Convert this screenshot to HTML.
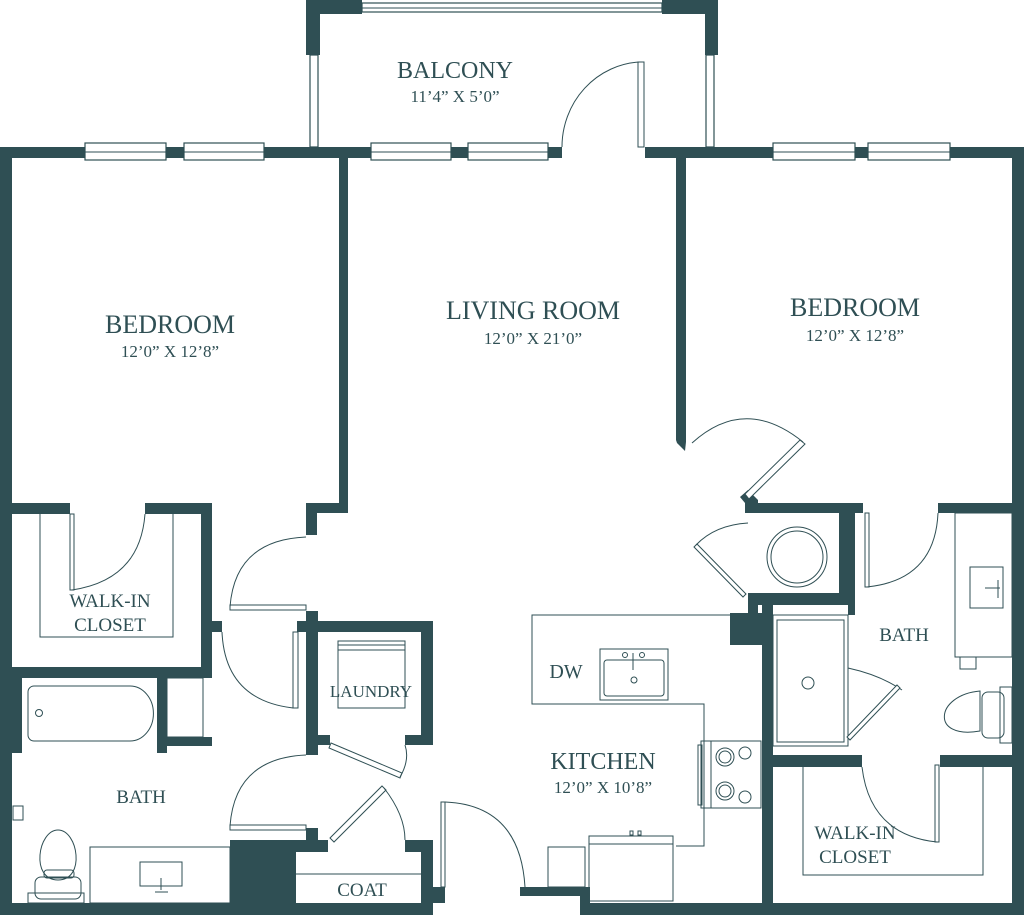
<!DOCTYPE html>
<html><head><meta charset="utf-8"><style>
html,body{margin:0;padding:0;background:#fff;width:1024px;height:915px;overflow:hidden}
text{font-family:"Liberation Serif",serif;fill:#2f4f54}
</style></head><body>
<svg width="1024" height="915" viewBox="0 0 1024 915" xmlns="http://www.w3.org/2000/svg">
<g fill="#2f4f54">
<!-- balcony -->
<rect x="306" y="0" width="56" height="14"/><rect x="306" y="0" width="14" height="55"/>
<rect x="662" y="0" width="56" height="14"/><rect x="705" y="0" width="13" height="55"/>
<!-- top wall -->
<rect x="0" y="147" width="562" height="11"/><rect x="645" y="147" width="379" height="11"/>
<!-- outer -->
<rect x="0" y="147" width="12" height="768"/><rect x="1012" y="147" width="12" height="768"/>
<rect x="0" y="903" width="433" height="12"/><rect x="580" y="903" width="444" height="12"/>
<rect x="520" y="887" width="67" height="9"/><rect x="580" y="887" width="10" height="20"/>
<!-- left bedroom -->
<rect x="339" y="158" width="9" height="355"/><rect x="306" y="503" width="42" height="10"/><rect x="306" y="503" width="11" height="32"/>
<rect x="0" y="503" width="70" height="11"/><rect x="145" y="503" width="67" height="11"/>
<rect x="201" y="503" width="11" height="175"/><rect x="212" y="621" width="10" height="11"/>
<rect x="0" y="667" width="212" height="11"/>
<rect x="157" y="678" width="10" height="75"/><rect x="167" y="737" width="45" height="9"/>
<rect x="12" y="678" width="10" height="75"/>
<rect x="230" y="840" width="66" height="63"/>
<!-- laundry -->
<rect x="306" y="611" width="12" height="144"/><rect x="297" y="621" width="136" height="11"/>
<rect x="421" y="621" width="12" height="124"/><rect x="318" y="735" width="12" height="10"/><rect x="405" y="735" width="28" height="10"/>
<!-- coat -->
<rect x="306" y="828" width="12" height="14"/><rect x="296" y="840" width="32" height="12"/>
<rect x="405" y="840" width="28" height="12"/><rect x="421" y="840" width="12" height="75"/>
<rect x="433" y="887" width="12" height="16"/>
<!-- right -->
<polygon points="676,158 686,158 686,442 685,451 677,443 676,440"/>
<polygon points="740,497 748,490 758,500 758,513 745,513 745,503"/>
<rect x="745" y="503" width="110" height="10"/>
<rect x="839" y="503" width="16" height="102"/>
<rect x="748" y="593" width="107" height="12"/><rect x="748" y="593" width="10" height="22"/>
<rect x="730" y="613" width="32" height="32"/>
<rect x="762" y="596" width="11" height="319"/>
<rect x="855" y="503" width="8" height="10"/><rect x="938" y="503" width="86" height="10"/>
<rect x="762" y="755" width="100" height="12"/><rect x="940" y="755" width="84" height="12"/>
<rect x="848" y="605" width="7" height="10"/>
</g>
<g fill="#fff" stroke="#2f4f54" stroke-width="1.2">
<!-- windows -->
<rect x="362" y="3" width="300" height="9"/>
<rect x="85" y="143" width="81" height="17"/><rect x="184" y="143" width="80" height="17"/>
<rect x="371" y="143" width="80" height="17"/><rect x="468" y="143" width="80" height="17"/>
<rect x="773" y="143" width="82" height="17"/><rect x="868" y="143" width="82" height="17"/>
<rect x="310" y="55" width="8" height="92"/><rect x="706" y="55" width="8" height="92"/>
</g>
<g fill="none" stroke="#2f4f54" stroke-width="1">
<line x1="85" y1="152" x2="166" y2="152"/><line x1="184" y1="152" x2="264" y2="152"/>
<line x1="371" y1="152" x2="451" y2="152"/><line x1="468" y1="152" x2="548" y2="152"/>
<line x1="773" y1="152" x2="855" y2="152"/><line x1="868" y1="152" x2="950" y2="152"/>
<line x1="362" y1="8" x2="662" y2="8"/>
<!-- balcony door -->
<rect x="638" y="62" width="6" height="85" fill="#fff"/>
<path d="M562,147 A82,85 0 0 1 640,62"/>
<!-- bedroom right door -->
<polygon points="745,494 800,440 805,444 749,499" fill="#fff"/>
<path d="M692,443 Q745,395 803,442"/>
<!-- left closet -->
<polyline points="40,514 40,637 173,637 173,514"/>
<rect x="70" y="514" width="4" height="76" fill="#fff"/>
<path d="M72,590 Q140,580 145,514"/>
<!-- hall doors -->
<rect x="230" y="605" width="76" height="5" fill="#fff"/>
<path d="M230,607 Q235,540 306,537"/>
<rect x="293" y="632" width="5" height="76" fill="#fff"/>
<path d="M222,632 Q225,700 293,708"/>
<rect x="230" y="825" width="76" height="5" fill="#fff"/>
<path d="M230,826 Q235,758 306,755"/>
<!-- tub -->
<rect x="167" y="678" width="36" height="59"/>
<path d="M34,686 H130 A23,27 0 0 1 130,741 H34 A6,6 0 0 1 28,735 V692 A6,6 0 0 1 34,686 Z"/>
<circle cx="39" cy="713" r="3.5"/>
<!-- left bath fixtures -->
<rect x="90" y="847" width="140" height="56"/>
<rect x="140" y="862" width="42" height="24"/><path d="M161,878 V890 M155,892 H168"/>
<path d="M58,880 C30,880 38,830 58,830 C78,830 86,880 58,880 Z"/>
<rect x="44" y="870" width="30" height="8" rx="3"/><rect x="35" y="877" width="46" height="22" rx="6"/>
<rect x="28" y="893" width="56" height="10"/>
<rect x="13" y="806" width="10" height="14"/>
<!-- laundry -->
<rect x="338" y="641" width="67" height="67"/><line x1="338" y1="650" x2="405" y2="650"/><line x1="338" y1="645" x2="405" y2="645"/>
<polygon points="331,743 402,773 400,778 329,748" fill="#fff"/>
<path d="M400,777 Q410,760 405,745"/>
<!-- coat -->
<line x1="296" y1="874" x2="421" y2="874"/>
<polygon points="330,838 382,786 386,790 334,842" fill="#fff"/>
<path d="M384,788 Q405,815 405,840"/>
<!-- entry -->
<rect x="441" y="802" width="4" height="85" fill="#fff"/>
<path d="M445,802 Q520,805 525,887"/>
<!-- kitchen -->
<polyline points="730,615 532,615 532,704 704,704 704,846 676,846"/>
<rect x="600" y="649" width="68" height="51"/><rect x="604" y="660" width="60" height="36" rx="3"/>
<circle cx="625" cy="655" r="2.5"/><circle cx="642" cy="655" r="2.5"/><line x1="633" y1="653" x2="633" y2="670"/><circle cx="634" cy="680" r="3"/>
<rect x="701" y="741" width="60" height="67"/><line x1="711" y1="741" x2="711" y2="808"/>
<rect x="698" y="745" width="4" height="60"/>
<circle cx="725" cy="757" r="9"/><circle cx="725" cy="757" r="6"/><circle cx="745" cy="753" r="6"/>
<circle cx="725" cy="791" r="9"/><circle cx="725" cy="791" r="6"/><circle cx="745" cy="797" r="6"/>
<rect x="589" y="836" width="84" height="65"/><line x1="589" y1="844" x2="673" y2="844"/>
<rect x="630" y="831" width="3" height="4"/><rect x="638" y="831" width="3" height="4"/>
<rect x="548" y="847" width="37" height="40"/>
<!-- water heater -->
<circle cx="797" cy="557" r="30"/><circle cx="797" cy="557" r="26"/>
<polygon points="697,544 746,594 743,597 694,547" fill="#fff"/>
<path d="M696,545 Q715,525 748,523"/>
<!-- right bath -->
<rect x="773" y="615" width="75" height="131"/><rect x="777" y="620" width="67" height="122"/>
<circle cx="808" cy="683" r="6"/>
<rect x="865" y="513" width="4" height="74" fill="#fff"/>
<path d="M867,587 Q935,580 938,513"/>
<rect x="955" y="513" width="57" height="144"/>
<rect x="970" y="567" width="33" height="41"/><path d="M985,588 H1000 M998,580 V598"/>
<rect x="960" y="657" width="16" height="12"/>
<path d="M980,691 C935,695 930,740 980,731 Z"/>
<rect x="982" y="692" width="22" height="46" rx="6"/><rect x="1000" y="687" width="12" height="56"/>
<path d="M848,668 Q880,675 902,690"/>
<polygon points="900,688 850,740 847,737 897,685" fill="#fff"/>
<line x1="848" y1="615" x2="848" y2="668"/>
<!-- right closet -->
<polyline points="803,767 803,875 983,875 983,767"/>
<rect x="935" y="765" width="4" height="77" fill="#fff"/>
<path d="M862,767 Q870,835 937,842"/>
</g>
<g text-anchor="middle">
<text x="455" y="78" font-size="24">BALCONY</text>
<text x="455" y="102" font-size="17">11’4” X 5’0”</text>
<text x="533" y="319" font-size="26">LIVING ROOM</text>
<text x="533" y="344" font-size="17">12’0” X 21’0”</text>
<text x="170" y="333" font-size="26">BEDROOM</text>
<text x="170" y="357" font-size="17">12’0” X 12’8”</text>
<text x="855" y="316" font-size="26">BEDROOM</text>
<text x="855" y="341" font-size="17">12’0” X 12’8”</text>
<text x="110" y="607" font-size="19">WALK-IN</text>
<text x="110" y="631" font-size="19">CLOSET</text>
<text x="141" y="803" font-size="19">BATH</text>
<text x="371" y="697" font-size="17">LAUNDRY</text>
<text x="362" y="896" font-size="19">COAT</text>
<text x="566" y="678" font-size="20">DW</text>
<text x="603" y="769" font-size="24">KITCHEN</text>
<text x="603" y="793" font-size="17">12’0” X 10’8”</text>
<text x="904" y="641" font-size="19">BATH</text>
<text x="855" y="839" font-size="19">WALK-IN</text>
<text x="855" y="863" font-size="19">CLOSET</text>
</g>
</svg>
</body></html>
